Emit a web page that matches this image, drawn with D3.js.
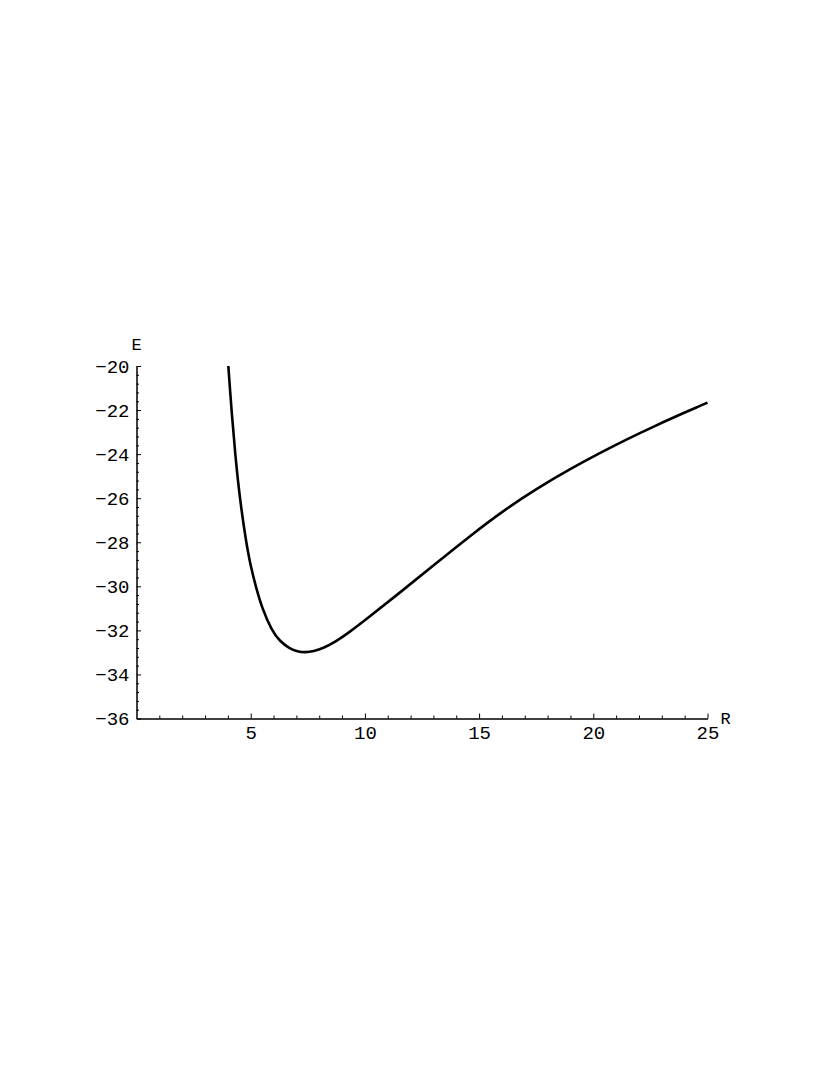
<!DOCTYPE html>
<html>
<head>
<meta charset="utf-8">
<script src="https://cdn.jsdelivr.net/npm/d3@7"></script>
<style>
  body { margin: 0; background: #fff; }
  svg text { font-family: "Liberation Mono", "Courier New", monospace; fill: #000; }
</style>
</head>
<body>
<svg id="chart" width="830" height="1075"></svg>
<script>
// curve points (R, E)
const rValues = [4.02, 4.09, 4.16, 4.32, 4.52, 4.80, 4.98, 5.22, 5.50, 5.92, 6.28, 6.70, 7.05, 7.38, 7.75, 8.2, 8.7, 9.3,
  10.08, 11.54, 13.0, 14.68, 16.07, 17.53, 18.99, 20.45, 21.54, 22.49, 23.95, 24.7, 25.0];
const eValues = [-20, -21, -22, -24, -26, -28, -29, -30, -31, -32, -32.5, -32.82, -32.96, -33.0, -32.95, -32.8, -32.53, -32.1,
  -31.48, -30.28, -29.05, -27.65, -26.56, -25.56, -24.67, -23.86, -23.29, -22.82, -22.13, -21.8, -21.66];

// ticks
const xMajor = [5, 10, 15, 20, 25];
const xMinor = d3.range(1, 25).filter(v => v % 5 !== 0);
const yMajor = [-36, -34, -32, -30, -28, -26, -24, -22, -20];
const yMinor = d3.range(0, 41).map(k => -36 + k * 0.4).filter((v, k) => k % 5 !== 0);

const svg = d3.select("#chart");

const x = d3.scaleLinear().domain([0, 25]).range([136.5, 707.5]);
const y = d3.scaleLinear().domain([-36, -20]).range([718.5, 366]);

const fmt = d => d3.format("d")(d);

// x axis, minor ticks then major ones
const gx = svg.append("g").attr("transform", `translate(0,${y(-36)})`);
gx.call(d3.axisBottom(x).tickValues(xMinor).tickSize(-3).tickSizeOuter(0).tickFormat(""));
const gx2 = svg.append("g").attr("transform", `translate(0,${y(-36)})`);
gx2.call(d3.axisBottom(x).tickValues(xMajor).tickSize(-5).tickSizeOuter(0).tickPadding(7).tickFormat(fmt));

// y axis
const gy = svg.append("g").attr("transform", `translate(${x(0)},0)`);
gy.call(d3.axisLeft(y).tickValues(yMinor).tickSize(-2.5).tickSizeOuter(0).tickFormat(""));
const gy2 = svg.append("g").attr("transform", `translate(${x(0)},0)`);
gy2.call(d3.axisLeft(y).tickValues(yMajor).tickSize(-4.5).tickSizeOuter(0).tickPadding(7).tickFormat(fmt));

svg.selectAll(".tick text").style("font-size", "19px").attr("fill", "#000");
svg.selectAll(".domain, .tick line").attr("stroke", "#000").attr("stroke-width", 1);

// axis labels
svg.append("text").attr("x", x(25) + 13).attr("y", y(-36) + 5)
  .attr("text-anchor", "start").style("font-size", "17px").text("R");
svg.append("text").attr("x", x(0)).attr("y", y(-20) - 16)
  .attr("text-anchor", "middle").style("font-size", "17px").text("E");

// the curve
const pts = rValues.map((r, i) => [r, eValues[i]]);
const line = d3.line()
  .x(d => x(d[0]))
  .y(d => y(d[1]))
  .curve(d3.curveBasis);

svg.append("path")
  .datum(pts)
  .attr("d", line)
  .attr("fill", "none")
  .attr("stroke", "#000")
  .attr("stroke-width", 2.6);
</script>
</body>
</html>
